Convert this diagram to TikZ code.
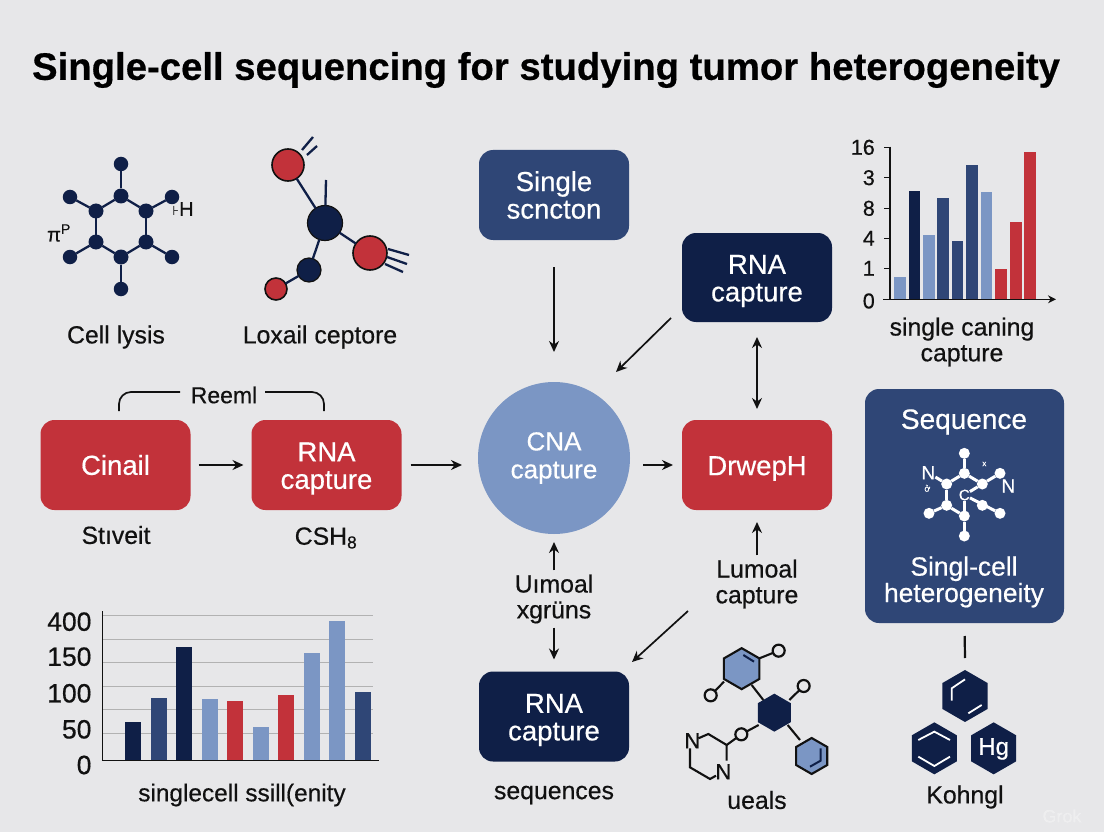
\documentclass[tikz,border=0pt]{standalone}
\usepackage{fontspec}
\setmainfont{Liberation Sans}[RawFeature={embolden=0.5}]
\newfontfamily\symfont{DejaVu Sans}
\usetikzlibrary{arrows.meta,shapes.geometric,calc}
\definecolor{bgc}{HTML}{E7E7E9}
\definecolor{navy}{HTML}{0F1F47}
\definecolor{midb}{HTML}{2F4676}
\definecolor{lightb}{HTML}{7B96C4}
\definecolor{redc}{HTML}{C2323A}
\definecolor{ink}{HTML}{111111}
\newcommand{\fsz}[1]{\fontsize{#1}{#1}\selectfont}
\newcommand{\upl}{\rule{0pt}{26pt}}
\tikzset{
  bx/.style={rounded corners=14pt,minimum width=150pt,minimum height=90pt,inner sep=0pt,outer sep=0pt,text=white,align=center,font=\fsz{27.5}},
  lab/.style={text=ink,align=center,inner sep=1pt,font=\fsz{24.8}},
  tick/.style={text=ink,anchor=east,inner sep=0pt,font=\fsz{21.5}},
  arr/.style={draw=ink,line width=1.7pt,-{Stealth[length=11pt,width=10pt]}},
  arrb/.style={draw=ink,line width=1.7pt,{Stealth[length=11pt,width=10pt]}-{Stealth[length=11pt,width=10pt]}},
  bond/.style={draw=navy,line width=2.3pt},
  kbond/.style={draw=ink,line width=2.1pt},
  atom/.style={circle,fill=navy,inner sep=0pt,outer sep=0pt,minimum size=#1},
  ratom/.style={circle,fill=redc,draw=ink,line width=1.6pt,inner sep=0pt,outer sep=0pt,minimum size=#1},
  natom/.style={circle,fill=navy,draw=ink,line width=1.2pt,inner sep=0pt,outer sep=0pt,minimum size=#1},
  watom/.style={circle,fill=white,inner sep=0pt,outer sep=0pt,minimum size=#1},
  oatom/.style={circle,fill=bgc,draw=ink,line width=2.2pt,inner sep=0pt,outer sep=0pt,minimum size=#1},
  wbond/.style={draw=white,line width=3pt},
  hexn/.style={regular polygon,regular polygon sides=6,shape border rotate=30,fill=navy,inner sep=0pt,outer sep=0pt,minimum size=#1},
  hexl/.style={regular polygon,regular polygon sides=6,shape border rotate=30,fill=lightb,draw=ink,line width=2.1pt,inner sep=0pt,outer sep=0pt,minimum size=#1},
  inhex/.style={draw=white,line width=1.8pt},
  grid/.style={draw=black!30,line width=1pt},
  axisl/.style={draw=ink,line width=1.6pt}
}
\begin{document}
\begin{tikzpicture}[x=1pt,y=-1pt]
\useasboundingbox (0,0) rectangle (1104,832);
\fill[bgc] (0,0) rectangle (1104,832);
% title
\node[font=\bfseries\fsz{38.3},text=black,inner sep=0pt] (title) at (546,70) {Single-cell sequencing for studying tumor heterogeneity};

% flow boxes
\node[bx,fill=midb] (single) at (554,195) {Single\\scncton};
\node[bx,fill=navy,minimum height=89pt] (rnatop) at (757,277.5) {\upl RNA\\capture};
\node[bx,fill=redc] (cinail) at (115.5,465) {Cinail};
\node[bx,fill=redc] (rnared) at (326.5,465) {\upl RNA\\capture};
\node[circle,fill=lightb,minimum size=152pt,inner sep=0pt,outer sep=0pt,text=white,align=center,font=\fsz{26}] (cna) at (554,458) {CNA\\[2pt]capture};
\node[bx,fill=redc] (drwep) at (757,465) {\upl DrwepH};
\node[bx,fill=navy] (rnabot) at (554,716.5) {\upl RNA\\capture};
\node[rounded corners=14pt,fill=midb,minimum width=199pt,minimum height=234pt,inner sep=0pt,outer sep=0pt] (seq) at (964.5,506) {};
\node[text=white,inner sep=0pt,font=\fsz{28}] (seqt) at (964,422) {Sequence};
\node[text=white,align=center,inner sep=0pt,font=\fsz{26.4}] (seqb) at (964,582) {Singl-cell\\heterogeneity};

% labels
\node[lab] (lysis) at (116,337) {Cell lysis};
\node[lab] (loxail) at (320,337) {Loxail ceptore};
\node[lab] (stiv) at (116,535) {Stıveit};
\node[lab] (csh) at (326,538) {CSH\textsubscript{8}};
\node[lab,font=\fsz{23}] (reeml) at (224,395) {Reeml};
\node[lab,inner sep=4pt] (uimoal) at (554,599) {Uımoal\\[1pt]xgrüns};
\node[lab,inner sep=4pt] (lumoal) at (757,584) {Lumoal\\[1pt]capture};
\node[lab] (seqs) at (554,795) {sequences};
\node[lab] (ueals) at (757,800) {ueals};
\node[lab] (kohn) at (965,797) {Kohngl};
\node[lab] (caning) at (962,342) {single caning\\[1pt]capture};
\node[lab,font=\fsz{24.4}] (ssill) at (242,795) {singlecell ssill(enity};
\node[text=white,opacity=.3,font=\fsz{18},inner sep=0pt] (grok) at (1062,816) {Grok};

% connectors
\coordinate (d1s) at (671,318); \coordinate (d1e) at (616,372);
\coordinate (d2s) at (688,611); \coordinate (d2e) at (632,662);
\draw[arr,shorten <=27pt,shorten >=30pt] (single) -- (cna.north);
\draw[arr] (d1s) -- (d1e);
\draw[arrb,shorten <=15pt,shorten >=11pt] (rnatop.south) -- (drwep.north);
\draw[arr,shorten <=8pt,shorten >=8pt] (cinail.east) -- (rnared.west);
\draw[arr,shorten <=9pt,shorten >=16pt] (rnared.east) -- (cna.west |- rnared.east);
\draw[arr,shorten <=13pt,shorten >=9pt] (cna.east |- drwep.west) -- (drwep.west);
\draw[arr,shorten >=12pt] (lumoal.north) -- (drwep.south);
\draw[arr,shorten >=8pt,shorten <=0pt] (uimoal.north) -- (cna.south);
\draw[arr,shorten >=12pt,shorten <=0pt] (uimoal.south) -- (rnabot.north);
\draw[arr] (d2s) -- (d2e);
\draw[draw=ink,line width=1.7pt,rounded corners=12pt] (119,411) -- (119,392) -- (180,392);
\draw[draw=ink,line width=1.7pt,rounded corners=12pt] (265,392) -- (324,392) -- (324,411);
\draw[draw=ink,line width=2.2pt,shorten <=13pt] (seq.south) -- (965,658);

% molecule 1
\foreach \n/\p in {a/{121,196},b/{146,211},c/{146,242},d/{121,257},e/{96,242},f/{96,211}}
  \node[atom=15pt] (m1\n) at (\p) {};
\foreach \n/\p in {g/{121,164},h/{172,197},i/{172,257},j/{121,289},k/{70,257},l/{70,197}}
  \node[atom=14.5pt] (m1\n) at (\p) {};
\foreach \u/\v in {a/b,b/c,c/d,d/e,e/f,f/a,a/g,b/h,c/i,d/j,e/k,f/l}
  \draw[bond] (m1\u) -- (m1\v);
\node[text=ink,inner sep=0pt,font=\fsz{20}] (m1H) at (183,209) {{\symfont\fsz{13}⊦}H};
\node[text=ink,inner sep=0pt,font=\fsz{20}] (m1P) at (59,233) {π\textsuperscript{P}};

% molecule 2
\node[natom=35pt] (m2a) at (325,223) {};
\node[ratom=32pt] (m2b) at (288,165) {};
\node[ratom=34pt] (m2c) at (370,253) {};
\node[natom=24pt] (m2d) at (309,270) {};
\node[ratom=22pt] (m2e) at (276,289) {};
\coordinate (m2t) at (326,180);
\draw[bond] (m2a) -- (m2t);
\draw[bond] (m2a) -- (m2b);
\draw[bond] (m2a) -- (m2c);
\draw[bond] (m2a) -- (m2d);
\draw[bond] (m2d) -- (m2e);
\draw[bond] (302,150) -- (313,137);
\draw[bond] (307,155) -- (317,146);
\draw[bond] (388,249) -- (409,255);
\draw[bond] (387,257) -- (407,264);
\draw[bond] (385,264) -- (403,272);

% top right chart
\begin{scope}[shift={(840,130)},x=0.33333pt,y=-0.33333pt]
\foreach \xa/\xb/\t/\c in {163/197/442/lightb,206/240/184/navy,250/284/315/lightb,292/327/204/midb,335/369/332/midb,379/414/105/midb,422/457/186/lightb,466/501/418/redc,510/545/275/redc,553/588/66/redc}
  \fill[\c] (\xa,\t) rectangle (\xb,507);
\draw[axisl] (150,50) -- (150,508);
\draw[axisl,-{Stealth[length=8pt,width=8pt]}] (130,508) -- (648,508);
\foreach \yy in {52,143,235,325,415} \draw[axisl] (132,\yy) -- (150,\yy);
\foreach \yy/\tt in {52/16,143/3,235/8,325/4,415/1,513/0}
  \node[tick] (t1\tt) at (105,\yy) {\tt};
\end{scope}

% bottom left chart
\begin{scope}[shift={(30,600)},x=0.33333pt,y=-0.33333pt]
\foreach \yy in {45,117,187,258,329,401} \draw[grid] (218,\yy) -- (1030,\yy);
\foreach \xa/\t/\c in {285/366/navy,362/294/midb,439/142/navy,516/297/lightb,592/303/redc,669/381/lightb,745/286/redc,822/160/lightb,898/64/lightb,976/277/midb}
  \fill[\c] (\xa,\t) rectangle (\xa+48,480);
\draw[axisl] (218,33) -- (218,481);
\draw[axisl] (216,481) -- (1048,481);
\foreach \yy/\tt in {65/400,170/150,280/100,388/50,495/0}
  \node[tick,font=\fsz{26.5}] (t2\tt) at (185,\yy) {\tt};
\end{scope}

% bottom middle molecule
\begin{scope}[shift={(660,630)},x=0.33333pt,y=-0.33333pt]
\node[hexl=41pt] (h1) at (245,116) {};
\node[hexn=38pt] (h2) at (343,248) {};
\node[hexl=36pt] (h3) at (455,378) {};
\node[oatom=12pt] (o1) at (356,62) {};
\node[oatom=12pt] (o2) at (152,196) {};
\node[oatom=12pt] (o3) at (431,168) {};
\node[oatom=12pt] (o4) at (244,313) {};
\draw[kbond] (298,85) -- (o1);
\draw[kbond] (192,155) -- (o2);
\draw[kbond] (388,210) -- (o3);
\draw[kbond] (296,285) -- (o4);
\draw[kbond] (275,165) -- (310,210);
\draw[kbond] (383,285) -- (420,330);
\draw[draw=navy,line width=2pt] (250,75) -- (282,95);
\draw[draw=navy,line width=2pt] (482,355) -- (482,392) -- (450,410);
\node[text=ink,inner sep=0pt,font=\fsz{22}] (nn1) at (97,332) {N};
\node[text=ink,inner sep=0pt,font=\fsz{22}] (nn2) at (190,425) {N};
\draw[kbond] (115,325) -- (145,312) -- (200,345) -- (200,392);
\draw[kbond] (200,345) -- (o4);
\draw[kbond] (90,355) -- (90,412) -- (150,447) -- (168,437);
\end{scope}

% sequence box molecule
\begin{scope}[shift={(850,380)},x=0.33333pt,y=-0.33333pt]
\foreach \n/\p in {a/{343,280},b/{397,312},c/{397,376},d/{343,408},e/{290,376},f/{290,312}}
  \node[watom=11pt] (m3\n) at (\p) {};
\foreach \n/\p in {g/{343,220},h/{450,280},i/{450,400},j/{343,468},k/{237,400}}
  \node[watom=11pt] (m3\n) at (\p) {};
\node[text=white,inner sep=0pt,font=\fsz{19}] (m3l) at (235,278) {N};
\node[text=white,inner sep=0pt,font=\fsz{19}] (m3r) at (475,318) {N};
\node[text=white,inner sep=0pt,font=\fsz{15}] (m3c) at (343,345) {C};
\foreach \u/\v in {a/b,b/c,c/d,d/e,e/f,f/a,a/g,b/h,c/i,d/j,e/k}
  \draw[wbond] (m3\u) -- (m3\v);
\draw[wbond] (m3f) -- (m3l);
\node[text=white,inner sep=0pt,font=\fsz{8}] (m3x) at (403,252) {x};
\node[text=white,inner sep=0pt,font=\fsz{9}] (m3o) at (232,325) {ở};
\end{scope}

% bottom right hexagons
\begin{scope}[shift={(850,380)},x=0.33333pt,y=-0.33333pt]
\node[hexn=52pt] (x1) at (345,948) {};
\node[hexn=52pt] (x2) at (253,1105) {};
\node[hexn=52pt] (x3) at (431,1105) {};
\node[text=white,inner sep=0pt,font=\fsz{24}] (hg) at (431,1107) {Hg};
\draw[inhex] (305,962) -- (305,925) -- (345,898);
\draw[inhex] (355,1000) -- (395,975);
\draw[inhex] (205,1080) -- (253,1055) -- (300,1080);
\draw[inhex] (205,1130) -- (253,1158) -- (300,1130);
\end{scope}
\end{tikzpicture}
\end{document}
